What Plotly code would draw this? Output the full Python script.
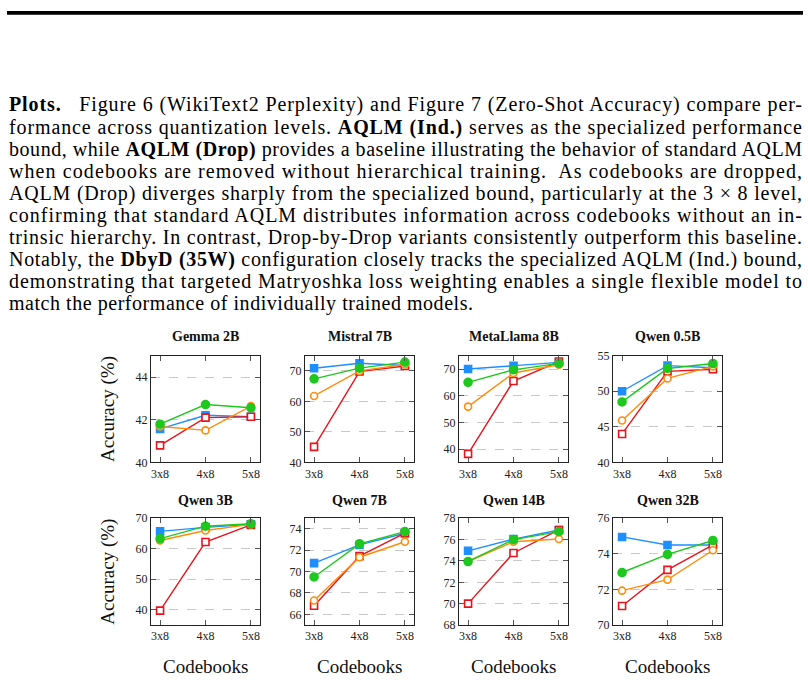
import json
import plotly.graph_objects as go

W, H = 808, 680

models = ["Gemma 2B", "Mistral 7B", "MetaLlama 8B", "Qwen 0.5B",
          "Qwen 3B", "Qwen 7B", "Qwen 14B", "Qwen 32B"]
codebooks = ["3x8", "4x8", "5x8"]

aqlm_ind = [[41.57, 42.21, 42.14], [70.9, 72.5, 71.8], [70.0, 71.2, 72.5], [50.0, 53.6, 53.3],
            [65.7, 67.0, 68.0], [70.8, 72.5, 73.6], [74.95, 76.05, 76.9], [74.95, 74.5, 74.5]]
aqlm_drop = [[40.8, 42.1, 42.14], [45.1, 69.8, 71.6], [38.2, 65.5, 72.8], [44.0, 52.8, 53.1],
             [39.7, 62.2, 67.8], [66.8, 71.45, 73.6], [70.0, 74.75, 76.9], [71.07, 73.1, 74.5]]
dbyd_uni = [[41.68, 41.5, 42.64], [61.8, 70.0, 72.1], [55.9, 68.5, 71.6], [45.9, 51.8, 53.5],
            [62.7, 66.0, 68.0], [67.3, 71.35, 72.8], [73.95, 75.8, 76.05], [71.93, 72.55, 74.2]]
dbyd_35w = [[41.79, 42.71, 42.56], [67.4, 70.9, 72.9], [65.0, 69.7, 72.1], [48.5, 53.2, 53.9],
            [63.3, 67.4, 68.2], [69.5, 72.6, 73.75], [73.95, 76.0, 76.75], [72.95, 73.97, 74.75]]

y_ranges = [[40, 45], [40, 75], [35, 75], [40, 55], [35, 70], [65, 75], [68, 78], [70, 76]]
y_ticks = [[40, 42, 44], [40, 50, 60, 70], [40, 50, 60, 70], [40, 45, 50, 55],
           [40, 50, 60, 70], [66, 68, 70, 72, 74], [68, 70, 72, 74, 76, 78], [70, 72, 74, 76]]

paragraph = [
    "<b>Plots.</b>\u00a0\u00a0 Figure 6 (WikiText2 Perplexity) and Figure 7 (Zero-Shot Accuracy) compare per-",
    "formance across quantization levels. <b>AQLM (Ind.)</b> serves as the specialized performance",
    "bound, while <b>AQLM (Drop)</b> provides a baseline illustrating the behavior of standard AQLM",
    "when codebooks are removed without hierarchical training.\u00a0 As codebooks are dropped,",
    "AQLM (Drop) diverges sharply from the specialized bound, particularly at the 3 \u00d7 8 level,",
    "confirming that standard AQLM distributes information across codebooks without an in-",
    "trinsic hierarchy. In contrast, Drop-by-Drop variants consistently outperform this baseline.",
    "Notably, the <b>DbyD (35W)</b> configuration closely tracks the specialized AQLM (Ind.) bound,",
    "demonstrating that targeted Matryoshka loss weighting enables a single flexible model to",
    "match the performance of individually trained models.",
]

SERIF = "Liberation Serif"
series = [
    ("AQLM (Ind.)", aqlm_ind, "#1e8fff", "square", "#1e8fff", 7),
    ("AQLM (Drop)", aqlm_drop, "#e8141c", "square", "white", 7),
    ("DbyD (Uniform)", dbyd_uni, "#ff8c0a", "circle", "white", 7),
    ("DbyD (35W)", dbyd_35w, "#1ec81e", "circle", "#1ec81e", 8),
]

col_left = [151, 305, 459, 613]
box_w = 109
row_top = [356, 522]
title_off = [20, 18]
box_h = 109

fig = go.Figure()
layout = {}
annotations = []

for i, m in enumerate(models):
    r, c = divmod(i, 4)
    k = "" if i == 0 else str(i + 1)
    x0, y0 = col_left[c], row_top[r]
    for name, data, col, sym, fill, sz in series:
        fig.add_trace(go.Scatter(
            x=codebooks, y=data[i], name=name, mode="lines+markers",
            xaxis="x" + k, yaxis="y" + k, showlegend=False,
            line=dict(color=col, width=1.4),
            marker=dict(symbol=sym, size=sz, color=fill, line=dict(color=col, width=1.6)),
        ))
    layout["xaxis" + k] = dict(
        domain=[x0 / W, (x0 + box_w) / W], anchor="y" + k,
        type="category", range=[-0.2, 2.2], categoryorder="array", categoryarray=codebooks,
        showgrid=False, zeroline=False, showline=True, linecolor="#222", linewidth=1,
        mirror="ticks", ticks="inside", ticklen=5, tickcolor="#555", tickwidth=1,
        tickfont=dict(family=SERIF, size=12, color="#222"),
    )
    layout["yaxis" + k] = dict(
        domain=[1 - (y0 + box_h) / H, 1 - y0 / H], anchor="x" + k,
        range=y_ranges[i], tickvals=y_ticks[i],
        showgrid=True, gridcolor="#c8c8c8", griddash="dash", gridwidth=1, zeroline=False,
        showline=True, linecolor="#222", linewidth=1,
        mirror="ticks", ticks="inside", ticklen=5, tickcolor="#555", tickwidth=1,
        tickfont=dict(family=SERIF, size=12, color="#222"),
    )
    annotations.append(dict(
        text="<b>" + m + "</b>", xref="paper", yref="paper",
        x=(x0 + box_w / 2) / W, y=1 - (y0 - title_off[r]) / H, xanchor="center", yanchor="middle",
        showarrow=False, font=dict(family=SERIF, size=14, color="#111"),
    ))
    if r == 1:
        annotations.append(dict(
            text="Codebooks", xref="paper", yref="paper",
            x=(x0 + box_w / 2) / W, y=1 - 673 / H, xanchor="center", yanchor="middle",
            showarrow=False, font=dict(family=SERIF, size=19, color="#111"),
        ))
    if c == 0:
        annotations.append(dict(
            text="Accuracy (%)", xref="paper", yref="paper", textangle=-90,
            x=108 / W, y=1 - (y0 + box_h / 2) / H, xanchor="center", yanchor="middle",
            showarrow=False, font=dict(family=SERIF, size=19, color="#111"),
        ))

line_len = []
for j, line in enumerate(paragraph):
    line_len.append(793 if j < len(paragraph) - 1 else 464)
    annotations.append(dict(
        text=line, xref="paper", yref="paper", align="left",
        x=7 / W, y=1 - (100 + j * 22.56) / H, xanchor="left", yanchor="middle",
        showarrow=False, font=dict(family=SERIF, size=20, color="#000"),
    ))

fig.update_layout(
    width=W, height=H, margin=dict(l=0, r=0, t=0, b=0),
    paper_bgcolor="white", plot_bgcolor="white",
    annotations=annotations,
    shapes=[dict(type="rect", xref="paper", yref="paper", x0=7 / W, x1=803 / W,
                 y0=1 - 8 / H, y1=1 - 4 / H, fillcolor="black", line=dict(width=0))],
    **layout,
)

# justify the paragraph lines: stretch each line to its width in the text block
prefixes = [p.replace("<b>", "").replace("</b>", "")[:14] for p in paragraph]
post = """
var gd = document.getElementById('{plot_id}');
var pre = PRE, lens = LENS;
gd.querySelectorAll('text.annotation-text').forEach(function(t) {
  var s = (t.textContent || '');
  for (var j = 0; j < pre.length; j++) {
    if (s.indexOf(pre[j]) === 0) {
      t.setAttribute('textLength', String(lens[j]));
      t.setAttribute('lengthAdjust', 'spacing');
    }
  }
});
""".replace("PRE", json.dumps(prefixes)).replace("LENS", json.dumps(line_len))

fig.write_html("out.html", post_script=post)
